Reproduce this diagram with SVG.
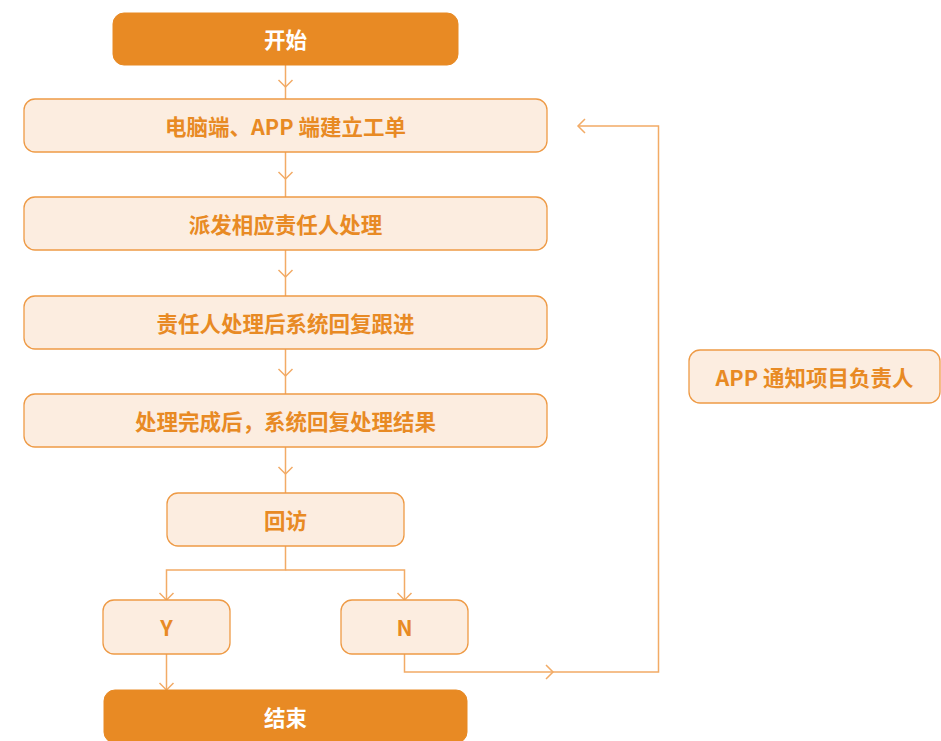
<svg xmlns="http://www.w3.org/2000/svg" width="941" height="741" viewBox="0 0 941 741">
<defs>
<style>
.dark{fill:#E88A24;stroke:#E88A24;stroke-width:1}
.light{fill:#FCEDE0;stroke:#EE9A45;stroke-width:1.3}
.tw{fill:#FFFFFF;font-family:"Noto Sans CJK SC","Noto Sans",sans-serif;font-weight:bold;font-size:21.5px;text-anchor:middle;dominant-baseline:central}
.to{fill:#E88A24;font-family:"Noto Sans CJK SC","Noto Sans",sans-serif;font-weight:bold;font-size:21.5px;text-anchor:middle;dominant-baseline:central}
.c{fill:none;stroke:#F2AB66;stroke-width:1.5}
</style>
<marker id="a" markerUnits="userSpaceOnUse" markerWidth="20" markerHeight="20" refX="0" refY="0" viewBox="-10 -10 20 20" orient="auto" overflow="visible">
<path d="M-7,-7 L0,0 L-7,7" fill="none" stroke="#F2AB66" stroke-width="1.5"/>
</marker>
</defs>
<g id="connectors">
<path class="c" d="M285.5 65 V87 V99" marker-mid="url(#a)"/>
<path class="c" d="M285.5 152 V179 V197" marker-mid="url(#a)"/>
<path class="c" d="M285.5 250 V277 V296" marker-mid="url(#a)"/>
<path class="c" d="M285.5 349 V376 V394" marker-mid="url(#a)"/>
<path class="c" d="M285.5 447 V474 V493" marker-mid="url(#a)"/>
<path class="c" d="M285.5 546 V570 H166.5 V600" marker-end="url(#a)"/>
<path class="c" d="M285.5 570 H404.5 V600" marker-end="url(#a)"/>
<path class="c" d="M166.5 654 V690" marker-end="url(#a)"/>
<path class="c" d="M404.5 654 V672 H553" marker-end="url(#a)"/>
<path class="c" d="M553 672 H658.5 V126 H578" marker-end="url(#a)"/>
</g>
<g id="start">
<rect class="dark" x="113" y="13" width="345" height="52" rx="11"/>
<text class="tw" x="285.5" y="38.5">开始</text>
</g>
<g id="n1">
<rect class="light" x="24" y="99" width="523" height="53" rx="11"/>
<text class="to" x="285.5" y="125">电脑端、APP 端建立工单</text>
</g>
<g id="n2">
<rect class="light" x="24" y="197" width="523" height="53" rx="11"/>
<text class="to" x="285.5" y="223">派发相应责任人处理</text>
</g>
<g id="n3">
<rect class="light" x="24" y="296" width="523" height="53" rx="11"/>
<text class="to" x="285.5" y="322">责任人处理后系统回复跟进</text>
</g>
<g id="n4">
<rect class="light" x="24" y="394" width="523" height="53" rx="11"/>
<text class="to" x="285.5" y="420">处理完成后，系统回复处理结果</text>
</g>
<g id="visit">
<rect class="light" x="167" y="493" width="237" height="53" rx="11"/>
<text class="to" x="285.5" y="519">回访</text>
</g>
<g id="yes">
<rect class="light" x="103" y="600" width="127" height="54" rx="11"/>
<text class="to" x="166.5" y="626">Y</text>
</g>
<g id="no">
<rect class="light" x="341" y="600" width="127" height="54" rx="11"/>
<text class="to" x="404.5" y="626">N</text>
</g>
<g id="end">
<rect class="dark" x="104" y="690" width="363" height="53" rx="11"/>
<text class="tw" x="285.5" y="716">结束</text>
</g>
<g id="notify">
<rect class="light" x="689" y="350" width="251" height="53" rx="11"/>
<text class="to" x="814.5" y="376">APP 通知项目负责人</text>
</g>
</svg>
